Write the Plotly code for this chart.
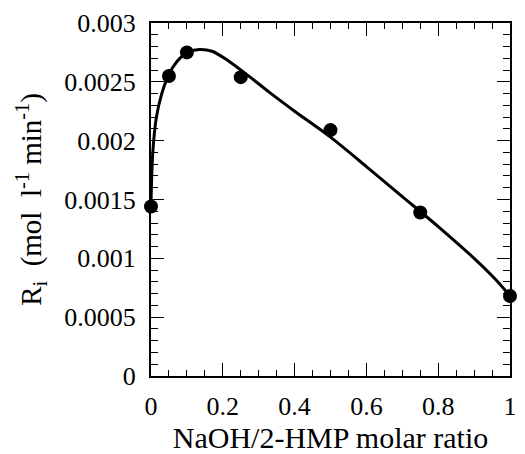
import plotly.graph_objects as go

# measured points
ratio = [0.0, 0.05, 0.1, 0.25, 0.5, 0.75, 1.0]
rate = [0.00144, 0.00255, 0.00275, 0.00254, 0.00209, 0.00139, 0.00068]

# fitted curve
curve_x = [0, 0.005, 0.015, 0.03, 0.045, 0.06, 0.08, 0.105, 0.135, 0.17, 0.215,
           0.27, 0.33, 0.4, 0.5, 0.6, 0.7, 0.8, 0.9, 0.96, 1.0]
curve_y = [0.00148, 0.00190, 0.00220, 0.00240, 0.00253, 0.00262, 0.00270, 0.002755,
           0.002775, 0.00276, 0.00268, 0.002555, 0.00241, 0.00225, 0.00203, 0.00178,
           0.001525, 0.00127, 0.00100, 0.00082, 0.00068]

x_ticks = [0, 0.2, 0.4, 0.6, 0.8, 1]
x_ticktext = ["0", "0.2", "0.4", "0.6", "0.8", "1"]
y_ticks = [0, 0.0005, 0.001, 0.0015, 0.002, 0.0025, 0.003]
y_ticktext = ["0", "0.0005", "0.001", "0.0015", "0.002", "0.0025", "0.003"]

FONT = "Liberation Serif"

fig = go.Figure()
fig.add_trace(go.Scatter(x=curve_x, y=curve_y, mode="lines",
                         line=dict(color="black", width=3, shape="spline", smoothing=0.8),
                         cliponaxis=False, showlegend=False))
fig.add_trace(go.Scatter(x=ratio, y=rate, mode="markers",
                         marker=dict(color="black", size=14),
                         cliponaxis=False, showlegend=False))

axis_common = dict(showline=True, linecolor="black", linewidth=2, mirror="allticks",
                   ticks="inside", ticklen=13, tickwidth=1.2, tickcolor="black",
                   showgrid=False, zeroline=False,
                   tickfont=dict(family=FONT, size=26, color="black"))

fig.update_xaxes(range=[0, 1], tickvals=x_ticks, ticktext=x_ticktext,
                 ticklabelstandoff=6,
                 minor=dict(ticks="inside", ticklen=6, dtick=0.05, tickcolor="black", tickwidth=1),
                 title=dict(text="NaOH/2-HMP molar ratio", font=dict(family=FONT, size=30, color="black"),
                            standoff=4),
                 **axis_common)
fig.update_yaxes(range=[0, 0.003], tickvals=y_ticks, ticktext=y_ticktext,
                 ticklabelstandoff=8,
                 minor=dict(ticks="inside", ticklen=7, dtick=0.0001, tickcolor="black", tickwidth=1),
                 title=dict(text="R<sub>i</sub>&nbsp;&nbsp;(mol&nbsp;&nbsp;l<sup>-1</sup> min<sup>-1</sup>)",
                            font=dict(family=FONT, size=29, color="black"), standoff=14),
                 **axis_common)

fig.update_layout(width=525, height=454, margin=dict(l=151, r=8, t=23, b=68),
                  plot_bgcolor="white", paper_bgcolor="white",
                  font=dict(family=FONT, color="black"))

fig.write_html("out.html", config={"displayModeBar": False},
               post_script="document.body.style.margin='0';document.body.style.overflow='hidden';")
